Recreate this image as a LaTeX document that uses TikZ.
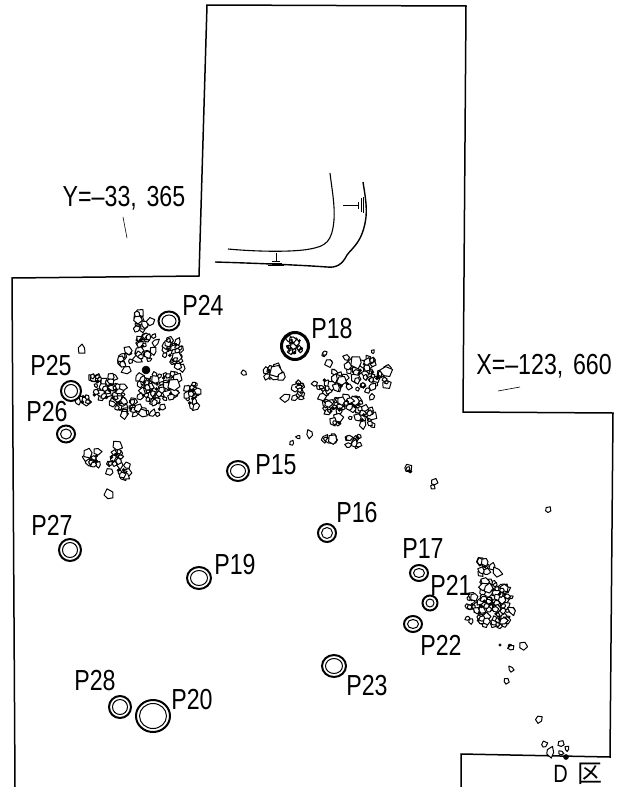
\documentclass[tikz,border=0pt]{standalone}
\usepackage{fontspec}
\setmainfont[FakeStretch=0.8]{Liberation Sans}
\newfontfamily\cjkfont{Noto Sans CJK JP}
\usetikzlibrary{shapes.geometric,calc}
\tikzset{
  boundary/.style={line width=1.5pt},
  contour/.style={line width=1.1pt},
  pit/.style={draw, ellipse, line width=2pt, inner sep=0pt},
  pitlabel/.style={font=\fontsize{29}{29}\selectfont, inner sep=0pt},
  stone/.style={draw, fill=white, line width=1pt, line join=round},
  blackstone/.style={draw, fill=black, line width=0.5pt}
}
% one irregular stone, centre and radius
\newcommand{\onestone}[3]{%
  \pgfmathsetmacro{\ra}{#3*(0.6+0.7*rnd)}
  \pgfmathsetmacro{\rb}{#3*(0.6+0.7*rnd)}
  \pgfmathsetmacro{\rc}{#3*(0.6+0.7*rnd)}
  \pgfmathsetmacro{\rd}{#3*(0.6+0.7*rnd)}
  \pgfmathsetmacro{\re}{#3*(0.6+0.7*rnd)}
  \pgfmathsetmacro{\rot}{90*rnd}
  \draw[stone] ($(#1,#2)+(\rot:\ra)$) -- ($(#1,#2)+(\rot+72:\rb)$) -- ($(#1,#2)+(\rot+144:\rc)$) -- ($(#1,#2)+(\rot+216:\rd)$) -- ($(#1,#2)+(\rot+288:\re)$) -- cycle;
}
% heap of stones, about a quarter of them with a dark one beside
\newcommand{\stoneheap}[5]{%
  \pgfmathtruncatemacro{\nstones}{#5*1.4}
  \foreach \i in {1,...,\nstones}{%
    \pgfmathsetmacro{\sx}{#1+1.35*#3*rand}
    \pgfmathsetmacro{\sy}{#2+1.35*#4*rand}
    \pgfmathsetmacro{\sr}{2+2.6*rnd}
    \onestone{\sx}{\sy}{\sr}
    \pgfmathsetmacro{\sx}{#1+#3*rand}
    \pgfmathsetmacro{\sy}{#2+#4*rand}
    \pgfmathtruncatemacro{\isdark}{rnd<0.25 ? 1 : 0}
    \ifnum\isdark=1 \draw[blackstone] (\sx,\sy) circle (1.5);\fi
  }%
}
% pit with its inner line
\newcommand{\pitring}[5]{%
  \node[pit, minimum width=#4*2pt, minimum height=#5*2pt] (#1) at (#2,#3) {};
  \draw[line width=1pt] (#1.center) ellipse ({#4-3.5} and {#5-3.5});
}
\begin{document}
\begin{tikzpicture}[x=1pt,y=-1pt]
\useasboundingbox (0,0) rectangle (627,787);
\pgfmathsetseed{27}

% excavation boundary
\draw[boundary] (15,787) -- (12,278) -- (199,276) -- (207,5) -- (466,6) -- (463,412) -- (613,413) -- (610,757) -- (461,754) -- (461,787);

% bank contours
\draw[contour] (228,249) .. controls (260,252) and (295,252) .. (310,249) .. controls (326,246) and (332,242) .. (334,220) .. controls (335,205) and (332,190) .. (330,173);
\draw[contour, line width=1.4pt] (215,262) .. controls (250,263) and (300,265) .. (327,267) .. controls (336,268) and (342,265) .. (347,255) .. controls (352,248) and (363,242) .. (366,217) .. controls (367,205) and (365,195) .. (363,182);
\draw[line width=0.8pt] (343,205) -- (358,205);
\draw[line width=0.7pt] (358,202) -- (358,209) (361,198) -- (361,212) (363,197) -- (363,213);
\draw[line width=0.8pt] (276,253) -- (276,261);
\draw[line width=0.7pt] (272,261) -- (280,261) (270,263) -- (282,263) (268,265) -- (284,265);

% stones west of the area
\stoneheap{140}{322}{4}{7}{9}
\onestone{151}{322}{4}
\onestone{82}{349}{4}
\stoneheap{146}{349}{8}{10}{16}
\stoneheap{125}{358}{4}{6}{7}
\onestone{127}{370}{5}
\stoneheap{172}{350}{7}{9}{14}
\stoneheap{177}{363}{5}{5}{6}
\stoneheap{103}{387}{9}{8}{16}
\stoneheap{113}{397}{9}{8}{16}
\stoneheap{83}{399}{4}{3}{6}
\stoneheap{130}{408}{5}{6}{10}
\onestone{138}{408}{4}
\stoneheap{157}{387}{14}{10}{34}
\stoneheap{153}{405}{8}{9}{8}
\onestone{177}{379}{6}
\onestone{174}{385}{6}
\stoneheap{192}{395}{5}{9}{13}
\draw[blackstone] (146,370) circle (4);
\onestone{117}{446}{5}
\stoneheap{93}{458}{6}{5}{9}
\stoneheap{115}{458}{5}{5}{9}
\stoneheap{122}{473}{4}{6}{6}
\onestone{110}{472}{4}
\onestone{109}{495}{5}

% stones east of P18
\onestone{244}{373}{3}
\stoneheap{273}{372}{6}{4}{7}
\onestone{276}{371}{6}
\onestone{282}{377}{4}
\stoneheap{298}{388}{3}{8}{9}
\onestone{286}{398}{5}
\onestone{315}{384}{3}
\stoneheap{327}{357}{3}{4}{3}
\stoneheap{325}{387}{5}{7}{7}
\stoneheap{333}{375}{5}{5}{5}
\stoneheap{343}{382}{5}{5}{7}
\stoneheap{360}{367}{10}{9}{18}
\onestone{357}{362}{6}
\stoneheap{380}{375}{8}{9}{11}
\onestone{386}{372}{6}
\stoneheap{362}{383}{5}{5}{5}
\onestone{372}{397}{3}
\onestone{373}{352}{2}
\stoneheap{343}{405}{14}{5}{22}
\stoneheap{337}{420}{3}{3}{4}
\stoneheap{365}{417}{6}{8}{11}
\onestone{350}{418}{2}
\stoneheap{330}{438}{4}{3}{5}
\stoneheap{355}{442}{6}{5}{7}
\onestone{310}{434}{4}
\onestone{298}{437}{2}
\onestone{292}{443}{2.5}

% scattered stones
\stoneheap{410}{469}{2}{3}{2}
\stoneheap{433}{485}{1}{4}{2}
\onestone{548}{510}{3.5}

% stones near P21
\stoneheap{487}{567}{6}{5}{7}
\onestone{497}{572}{5}
\stoneheap{488}{588}{6}{5}{8}
\onestone{511}{597}{2}
\stoneheap{487}{611}{15}{11}{42}
\stoneheap{500}{594}{5}{6}{7}
\stoneheap{503}{617}{7}{6}{10}
\draw[blackstone] (500,645) circle (1.2);
\draw[blackstone] (510,646) circle (2);
\onestone{511}{648}{3}
\onestone{523}{646}{4}
\onestone{511}{669}{3}
\onestone{506}{681}{3}
\stoneheap{539}{719}{1}{2}{2}
\onestone{544}{745}{3.5}
\onestone{550}{752}{5}
\onestone{561}{744}{3}
\onestone{567}{749}{2.5}
\onestone{561}{753}{2.5}
\draw[blackstone] (566,757) circle (2.5);

% pits
\pitring{P15}{238}{471}{11}{10}
\pitring{P16}{327}{533}{9}{9}
\pitring{P17}{419}{573}{9}{8}
\pitring{P19}{199}{578}{12}{11}
\pitring{P20}{153}{716}{17}{16}
\pitring{P21}{430}{603}{7.5}{7.5}
\pitring{P22}{413}{624}{9}{8}
\pitring{P23}{334}{666}{12}{11}
\pitring{P24}{169}{321}{10.5}{9.5}
\pitring{P25}{71}{391}{10}{10}
\pitring{P26}{66}{434}{9}{8.5}
\pitring{P27}{70}{550}{11}{11}
\pitring{P28}{120}{707}{11}{11}

% P18 is full of stones
\node[pit, line width=3pt, minimum width=27pt, minimum height=27pt] (P18) at (295,346) {};
\stoneheap{295}{346}{5}{5}{9}
\foreach \a in {20,95,170,240,310}{\fill (P18.center) ++(\a:7) circle (1.6);}

% labels
\node[pitlabel] (labP15) at (276,465) {P15};
\node[pitlabel] (labP16) at (357,513) {P16};
\node[pitlabel] (labP17) at (423,549) {P17};
\node[pitlabel] (labP18) at (332,329) {P18};
\node[pitlabel] (labP19) at (235,565) {P19};
\node[pitlabel] (labP20) at (192,700) {P20};
\node[pitlabel] (labP21) at (451,585) {P21};
\node[pitlabel] (labP22) at (441,645) {P22};
\node[pitlabel] (labP23) at (367,686) {P23};
\node[pitlabel] (labP24) at (203,305) {P24};
\node[pitlabel] (labP25) at (51,366) {P25};
\node[pitlabel] (labP26) at (47,412) {P26};
\node[pitlabel] (labP27) at (52,525) {P27};
\node[pitlabel] (labP28) at (95,681) {P28};
\node[pitlabel] (labY) at (124,198) {Y=–33,\,\,365};
\node[pitlabel] (labX) at (544,366) {X=–123,\,\,660};
\node[pitlabel, font=\fontsize{25}{25}\selectfont] (labD) at (578,774) {D\hspace{10pt}{\cjkfont 区}};

% leaders of the grid lines
\coordinate (yTop) at (123,217);
\coordinate (yEnd) at (127,238);
\coordinate (xTop) at (520,387);
\coordinate (xEnd) at (498,391);
\draw[line width=0.6pt] (yTop) -- (yEnd);
\draw[line width=0.6pt] (xTop) -- (xEnd);
\end{tikzpicture}
\end{document}
